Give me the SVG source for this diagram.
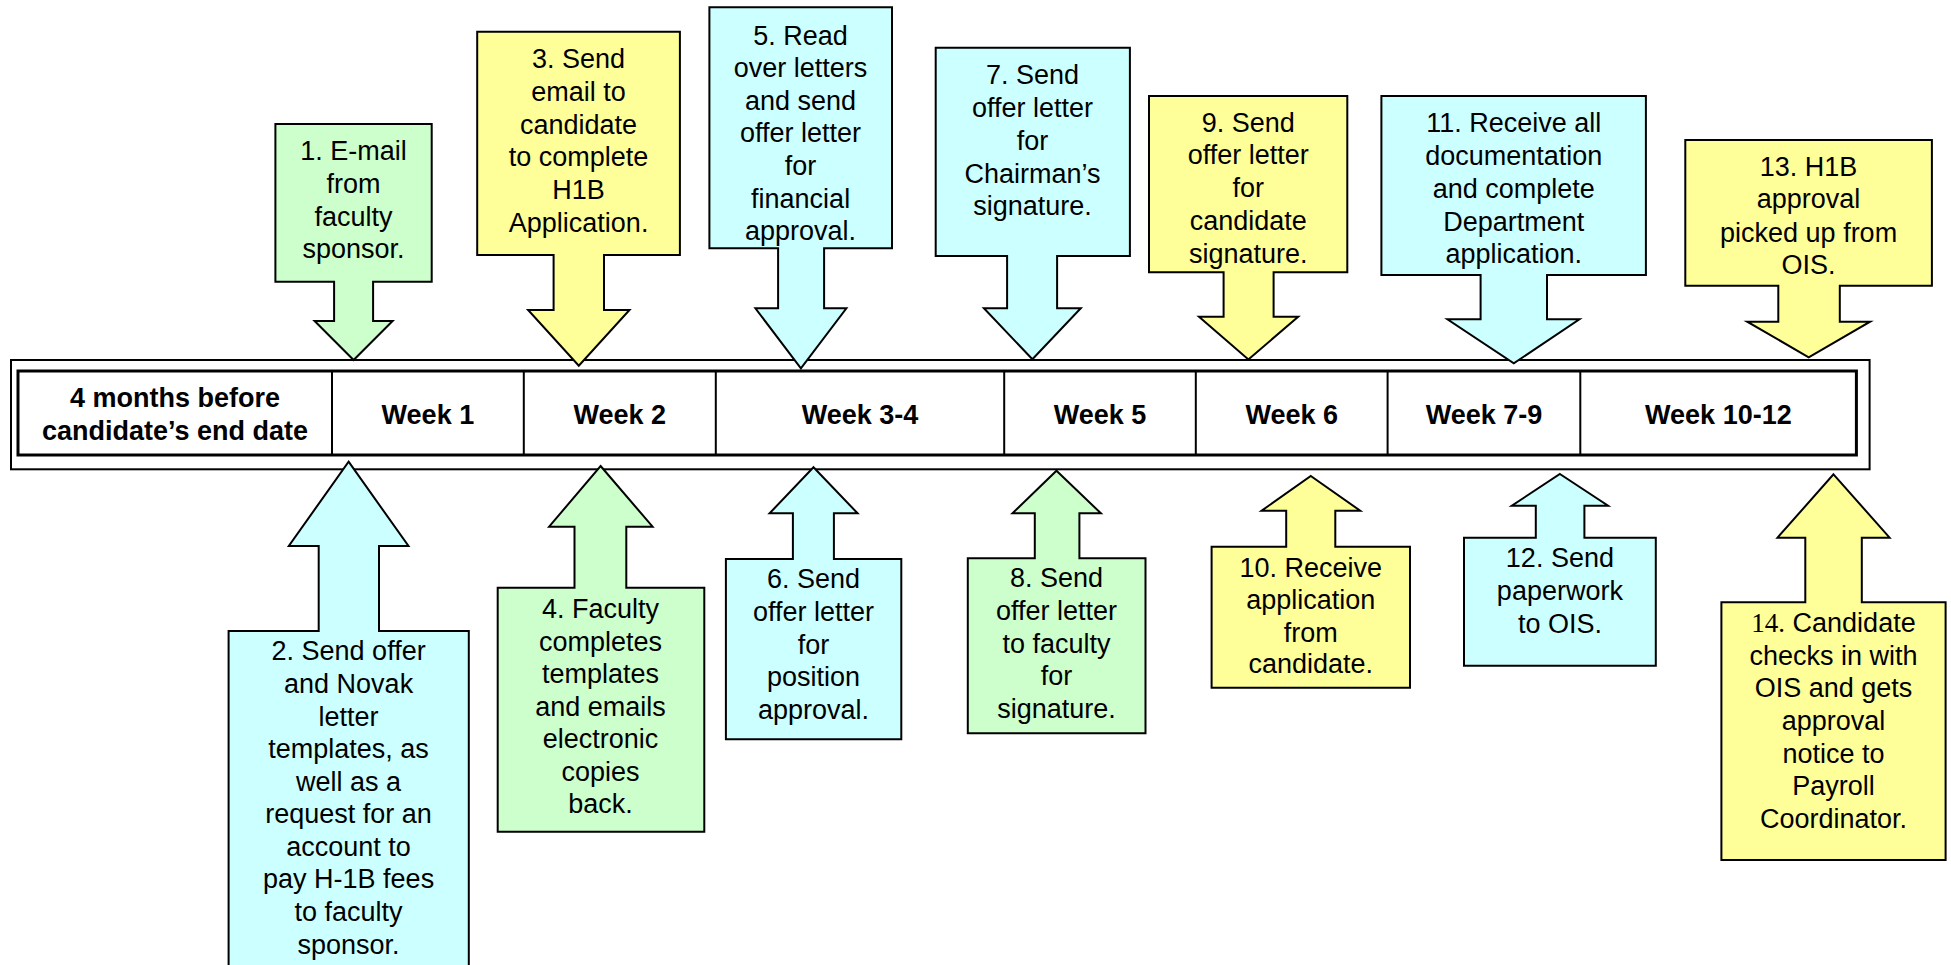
<svg xmlns="http://www.w3.org/2000/svg" width="1951" height="965" viewBox="0 0 1951 965">
<style>
.g{fill:#CCFFCC}.y{fill:#FFFF99}.c{fill:#CCFFFF}
.sh{stroke:#000;stroke-width:2;stroke-linejoin:miter}
.t{font-family:"Liberation Sans",Arial,sans-serif;font-size:27px;fill:#000;text-anchor:middle}
.w{font-family:"Liberation Sans",Arial,sans-serif;font-size:27px;font-weight:bold;fill:#000;text-anchor:middle}
</style>
<rect width="1951" height="965" fill="#fff"/>
<g id="timeline">
<rect x="11" y="360" width="1858.6" height="109.3" fill="#fff" stroke="#000" stroke-width="2"/>
<rect x="18" y="371" width="1838.4" height="84" fill="#fff" stroke="#000" stroke-width="3"/>
<g stroke="#000" stroke-width="2">
<line x1="332" y1="371" x2="332" y2="455"/>
<line x1="523.8" y1="371" x2="523.8" y2="455"/>
<line x1="715.8" y1="371" x2="715.8" y2="455"/>
<line x1="1004.2" y1="371" x2="1004.2" y2="455"/>
<line x1="1195.8" y1="371" x2="1195.8" y2="455"/>
<line x1="1387.6" y1="371" x2="1387.6" y2="455"/>
<line x1="1580.3" y1="371" x2="1580.3" y2="455"/>
</g>
<text class="w" x="175" y="407">4 months before</text>
<text class="w" x="175" y="440">candidate’s end date</text>
<text class="w" x="427.9" y="424">Week 1</text>
<text class="w" x="619.8" y="424">Week 2</text>
<text class="w" x="860" y="424">Week 3-4</text>
<text class="w" x="1100" y="424">Week 5</text>
<text class="w" x="1291.7" y="424">Week 6</text>
<text class="w" x="1484" y="424">Week 7-9</text>
<text class="w" x="1718.4" y="424">Week 10-12</text>
</g>
<g id="connectors"></g>
<g id="step1">
<path class="g sh" d="M275.4,124 H431.7 V281.7 H373.1 V321 H392.6 L353.6,360 L314.6,321 H334.1 V281.7 H275.4 Z"/>
<text class="t" x="353.6" y="160">1. E-mail</text>
<text class="t" x="353.6" y="193">from</text>
<text class="t" x="353.6" y="226">faculty</text>
<text class="t" x="353.6" y="258">sponsor.</text>
</g>
<g id="step3">
<path class="y sh" d="M477.2,31.7 H679.9 V255 H604 V310 H629.5 L578.8,365.7 L528.1,310 H553.6 V255 H477.2 Z"/>
<text class="t" x="578.6" y="68">3. Send</text>
<text class="t" x="578.6" y="101">email to</text>
<text class="t" x="578.6" y="134">candidate</text>
<text class="t" x="578.6" y="166">to complete</text>
<text class="t" x="578.6" y="199">H1B</text>
<text class="t" x="578.6" y="232">Application.</text>
</g>
<g id="step5">
<path class="c sh" d="M709.4,7.3 H892 V248.3 H824.1 V308.3 H846.4 L800.9,368.3 L755.4,308.3 H778.1 V248.3 H709.4 Z"/>
<text class="t" x="800.6" y="45">5.  Read</text>
<text class="t" x="800.6" y="77">over letters</text>
<text class="t" x="800.6" y="110">and send</text>
<text class="t" x="800.6" y="142">offer letter</text>
<text class="t" x="800.6" y="175">for</text>
<text class="t" x="800.6" y="208">financial</text>
<text class="t" x="800.6" y="240">approval.</text>
</g>
<g id="step7">
<path class="c sh" d="M935.7,47.7 H1129.9 V256 H1057.1 V308.3 H1080.8 L1032.4,359.3 L983.9,308.3 H1007.1 V256 H935.7 Z"/>
<text class="t" x="1032.6" y="84">7. Send</text>
<text class="t" x="1032.6" y="117">offer letter</text>
<text class="t" x="1032.6" y="150">for</text>
<text class="t" x="1032.6" y="183">Chairman’s</text>
<text class="t" x="1032.6" y="215">signature.</text>
</g>
<g id="step9">
<path class="y sh" d="M1149,96 H1347.3 V272.3 H1273.6 V316.7 H1298.2 L1248.4,359.5 L1199,316.7 H1223.6 V272.3 H1149 Z"/>
<text class="t" x="1248.2" y="132">9. Send</text>
<text class="t" x="1248.2" y="164">offer letter</text>
<text class="t" x="1248.2" y="197">for</text>
<text class="t" x="1248.2" y="230">candidate</text>
<text class="t" x="1248.2" y="263">signature.</text>
</g>
<g id="step11">
<path class="c sh" d="M1381.4,96 H1645.9 V275 H1547 V319.3 H1579.4 L1513.8,363.3 L1447.4,319.3 H1480.6 V275 H1381.4 Z"/>
<text class="t" x="1513.8" y="132">11. Receive all</text>
<text class="t" x="1513.8" y="165">documentation</text>
<text class="t" x="1513.8" y="198">and complete</text>
<text class="t" x="1513.8" y="231">Department</text>
<text class="t" x="1513.8" y="263">application.</text>
</g>
<g id="step13">
<path class="y sh" d="M1685.3,140 H1931.9 V285.7 H1839.8 V321.7 H1870.1 L1808.7,357.3 L1747.2,321.7 H1778.3 V285.7 H1685.3 Z"/>
<text class="t" x="1808.6" y="176">13. H1B</text>
<text class="t" x="1808.6" y="208">approval</text>
<text class="t" x="1808.6" y="242">picked up from</text>
<text class="t" x="1808.6" y="274">OIS.</text>
</g>
<g id="step2">
<path class="c sh" d="M348.6,461.7 L408.5,546 H379 V631 H468.8 V975 H228.6 V631 H318.7 V546 H288.8 Z"/>
<text class="t" x="348.6" y="660">2. Send offer</text>
<text class="t" x="348.6" y="693">and Novak</text>
<text class="t" x="348.6" y="726">letter</text>
<text class="t" x="348.6" y="758">templates, as</text>
<text class="t" x="348.6" y="791">well as a</text>
<text class="t" x="348.6" y="823">request for an</text>
<text class="t" x="348.6" y="856">account to</text>
<text class="t" x="348.6" y="888">pay H-1B fees</text>
<text class="t" x="348.6" y="921">to faculty</text>
<text class="t" x="348.6" y="954">sponsor.</text>
</g>
<g id="step4">
<path class="g sh" d="M600.6,466 L652.6,526.7 H626.3 V587.7 H704.3 V831.7 H497.7 V587.7 H574.5 V526.7 H549.1 Z"/>
<text class="t" x="600.6" y="618">4. Faculty</text>
<text class="t" x="600.6" y="651">completes</text>
<text class="t" x="600.6" y="683">templates</text>
<text class="t" x="600.6" y="716">and emails</text>
<text class="t" x="600.6" y="748">electronic</text>
<text class="t" x="600.6" y="781">copies</text>
<text class="t" x="600.6" y="813">back.</text>
</g>
<g id="step6">
<path class="c sh" d="M813.5,467.3 L857.6,513.3 H833.9 V559 H901.3 V739.3 H725.9 V559 H792.9 V513.3 H769.6 Z"/>
<text class="t" x="813.5" y="588">6. Send</text>
<text class="t" x="813.5" y="621">offer letter</text>
<text class="t" x="813.5" y="654">for</text>
<text class="t" x="813.5" y="686">position</text>
<text class="t" x="813.5" y="719">approval.</text>
</g>
<g id="step8">
<path class="g sh" d="M1056.5,470.7 L1100.9,513.3 H1079.4 V558.3 H1145.5 V733.3 H967.8 V558.3 H1034.8 V513.3 H1012.5 Z"/>
<text class="t" x="1056.5" y="587">8. Send</text>
<text class="t" x="1056.5" y="620">offer letter</text>
<text class="t" x="1056.5" y="653">to faculty</text>
<text class="t" x="1056.5" y="685">for</text>
<text class="t" x="1056.5" y="718">signature.</text>
</g>
<g id="step10">
<path class="y sh" d="M1310.8,476 L1360.2,510.7 H1335.3 V546.7 H1410 V687.7 H1211.6 V546.7 H1286.2 V510.7 H1261.6 Z"/>
<text class="t" x="1310.8" y="577">10. Receive</text>
<text class="t" x="1310.8" y="609">application</text>
<text class="t" x="1310.8" y="642">from</text>
<text class="t" x="1310.8" y="673">candidate.</text>
</g>
<g id="step12">
<path class="c sh" d="M1559.9,474 L1608.1,505.7 H1584.4 V537.7 H1655.8 V665.7 H1464 V537.7 H1535.8 V505.7 H1511.8 Z"/>
<text class="t" x="1559.9" y="567">12. Send</text>
<text class="t" x="1559.9" y="600">paperwork</text>
<text class="t" x="1559.9" y="633">to OIS.</text>
</g>
<g id="step14">
<path class="y sh" d="M1833.5,474.3 L1889.6,537.7 H1861.8 V602.3 H1945.6 V860 H1721.4 V602.3 H1805.3 V537.7 H1777.5 Z"/>
<text class="t" x="1833.5" y="632"><tspan font-family="'Liberation Serif',serif">14.</tspan> Candidate</text>
<text class="t" x="1833.5" y="665">checks in with</text>
<text class="t" x="1833.5" y="697">OIS and gets</text>
<text class="t" x="1833.5" y="730">approval</text>
<text class="t" x="1833.5" y="763">notice to</text>
<text class="t" x="1833.5" y="795">Payroll</text>
<text class="t" x="1833.5" y="828">Coordinator.</text>
</g>
</svg>
